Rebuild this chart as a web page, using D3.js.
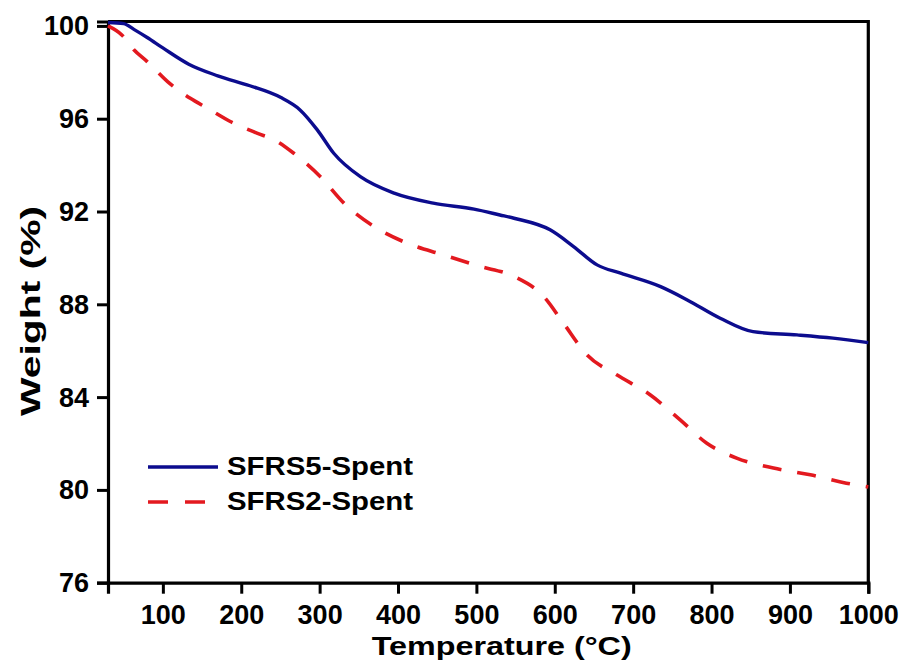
<!DOCTYPE html>
<html>
<head>
<meta charset="utf-8">
<script src="https://cdn.jsdelivr.net/npm/d3@7"></script>
<style>
  html, body { margin: 0; padding: 0; background: #fff; }
  svg { display: block; }
  text { font-family: "Liberation Sans", Arial, sans-serif; font-weight: bold; fill: #000; }
</style>
</head>
<body>
<svg id="chart" width="910" height="670"></svg>
<script>
// ---- data ----
const seriesNames = ["SFRS5-Spent", "SFRS2-Spent"];
const sfrs5Temp = [30, 50, 63, 80, 100, 133, 170, 211, 250, 275, 297, 318, 352, 395, 445, 497, 530, 548, 594, 624, 654, 684, 735, 769, 811, 853, 909, 955, 1000];
const sfrs5Weight = [100.15, 100.1, 99.85, 99.5, 99.05, 98.35, 97.85, 97.42, 96.92, 96.38, 95.52, 94.51, 93.5, 92.79, 92.36, 92.1, 91.85, 91.71, 91.21, 90.49, 89.7, 89.34, 88.76, 88.19, 87.4, 86.82, 86.68, 86.54, 86.35];
const sfrs2Temp = [30, 48, 63, 80, 106, 135, 157, 186, 220, 242, 267, 301, 331, 373, 412, 458, 503, 548, 586, 611, 641, 679, 722, 760, 794, 832, 879, 926, 972, 1000];
const sfrs2Weight = [100.0, 99.6, 98.97, 98.46, 97.6, 96.88, 96.45, 95.88, 95.38, 95.09, 94.51, 93.5, 92.36, 91.28, 90.63, 90.13, 89.65, 89.2, 88.33, 87.19, 85.82, 84.96, 84.09, 83.02, 82.01, 81.37, 80.94, 80.65, 80.29, 80.13];
const xTicks = [100, 200, 300, 400, 500, 600, 700, 800, 900, 1000];
const yTicks = [76, 80, 84, 88, 92, 96, 100];
const xTitle = "Temperature (°C)";
const yTitle = "Weight (%)";

// ---- layout ----
const L = 108, R = 868.3, T = 21.5, B = 582.7;
const FONT = '"Liberation Sans", Arial, sans-serif';
const svg = d3.select("#chart");

const x = d3.scaleLinear().domain([30, 1000]).range([L, R]);
const y = d3.scaleLinear().domain([76, 100.19]).range([B, T]);

// frame (top and right borders)
svg.append("path")
  .attr("d", `M${L},${T}H${R}V${B}`)
  .attr("fill", "none").attr("stroke", "#000").attr("stroke-width", 3.2);

// axes
const xAxis = svg.append("g").attr("transform", `translate(0,${B})`)
  .call(d3.axisBottom(x).tickValues(xTicks).tickSize(11).tickPadding(11).tickFormat(d3.format("d")));
const yAxis = svg.append("g").attr("transform", `translate(${L},0)`)
  .call(d3.axisLeft(y).tickValues(yTicks).tickSize(11).tickPadding(8).tickFormat(d3.format("d")));

[xAxis, yAxis].forEach(g => {
  g.attr("font-family", FONT).attr("font-size", 27);
  g.select(".domain").attr("stroke", "#000").attr("stroke-width", 3.2);
  g.selectAll(".tick line").attr("stroke", "#000").attr("stroke-width", 3);
  g.selectAll(".tick text")
    .attr("fill", "#000")
    .style("font-family", FONT)
    .style("font-weight", "bold")
    .style("font-size", "27px");
});
yAxis.selectAll(".tick text").attr("dy", "0.33em");

// lines
const line = d3.line().x(d => x(d[0])).y(d => y(d[1])).curve(d3.curveMonotoneX);
const s5 = sfrs5Temp.map((t, i) => [t, sfrs5Weight[i]]);
const s2 = sfrs2Temp.map((t, i) => [t, sfrs2Weight[i]]);

const blue = "#0c0c8e", red = "#e3191f";

svg.append("path").datum(s2).attr("d", line)
  .attr("fill", "none").attr("stroke", red).attr("stroke-width", 3.6)
  .attr("stroke-dasharray", "19,16");
svg.append("path").datum(s5).attr("d", line)
  .attr("fill", "none").attr("stroke", blue).attr("stroke-width", 3.4);

// legend
const leg = svg.append("g");
leg.append("line").attr("x1", 148).attr("x2", 218).attr("y1", 467).attr("y2", 467)
  .attr("stroke", blue).attr("stroke-width", 3.4);
leg.append("line").attr("x1", 148).attr("x2", 206).attr("y1", 502).attr("y2", 502)
  .attr("stroke", red).attr("stroke-width", 3.6).attr("stroke-dasharray", "20,17");
leg.append("text").attr("x", 227).attr("y", 475).text(seriesNames[0])
  .style("font-size", "25.5px").attr("textLength", 186).attr("lengthAdjust", "spacingAndGlyphs");
leg.append("text").attr("x", 227).attr("y", 510).text(seriesNames[1])
  .style("font-size", "25.5px").attr("textLength", 186).attr("lengthAdjust", "spacingAndGlyphs");

// titles
svg.append("text").attr("x", 501.7).attr("y", 655).attr("text-anchor", "middle")
  .style("font-size", "26px").attr("textLength", 260).attr("lengthAdjust", "spacingAndGlyphs")
  .text(xTitle);
svg.append("text").attr("transform", "translate(40,311) rotate(-90)").attr("text-anchor", "middle")
  .style("font-size", "27px").attr("textLength", 210).attr("lengthAdjust", "spacingAndGlyphs")
  .text(yTitle);
</script>
</body>
</html>
